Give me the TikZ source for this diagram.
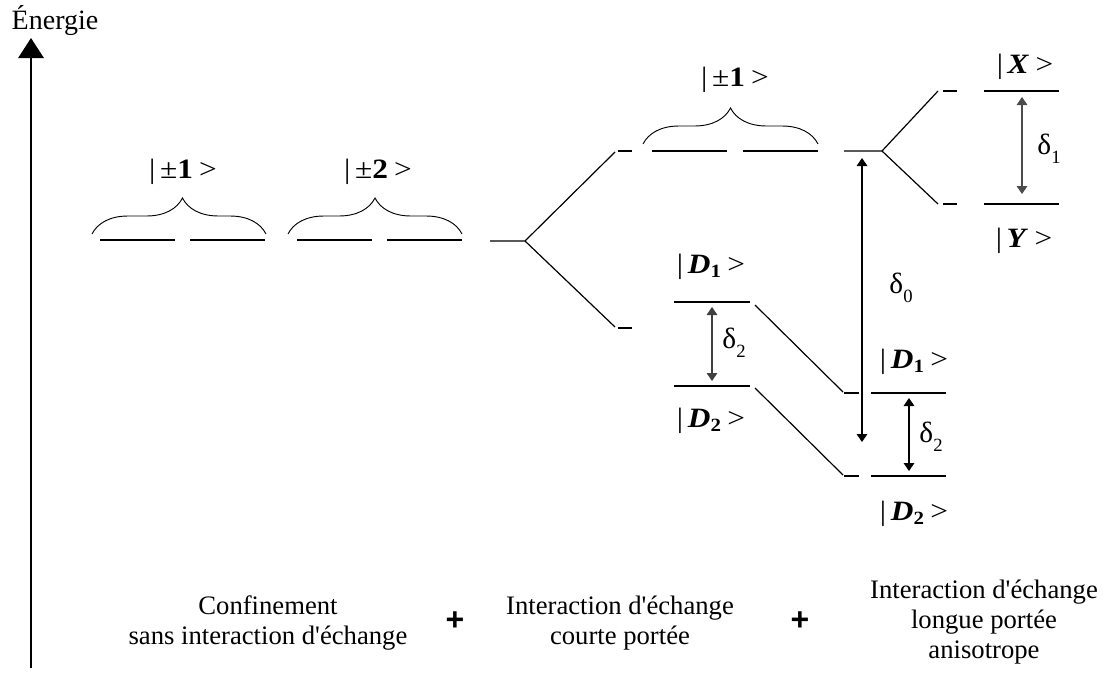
\documentclass[tikz,border=0pt]{standalone}
\usepackage{graphicx}
\usepackage{fontspec}
\setmainfont{Liberation Serif}
\setsansfont{Liberation Sans}
\usetikzlibrary{arrows.meta,decorations.pathreplacing}
\newcommand{\wide}[1]{\scalebox{1.12}[1]{#1}}
\newcommand{\ket}[1]{\wide{\textbar\hspace{0.15em}#1\hspace{0.2em}>}}
\newcommand{\dsub}[1]{{\fontsize{22}{22}\selectfont δ}\raisebox{-7pt}{\fontsize{14}{14}\selectfont #1}}
\newcommand{\Dk}[2]{\wide{\textbar\hspace{0.15em}\textbf{\textit{#1}}\raisebox{-3pt}{\fontsize{14}{14}\selectfont\textbf{#2}}\hspace{0.2em}>}}
\begin{document}
\begin{tikzpicture}[x=0.75pt,y=-0.75pt,
  lvl/.style={line width=1.9pt},
  thin/.style={line width=0.9pt},
  brc/.style={decorate,decoration={brace,amplitude=27pt,aspect=#1},line width=0.7pt},
  brc/.default=0.5,
  dar/.style={line width=0.8pt,{Triangle[length=6pt,width=8pt]}-{Triangle[length=6pt,width=8pt]}},
  lbl/.style={font=\fontsize{21}{23}\selectfont,inner sep=0pt},
  txt/.style={font=\fontsize{20}{22.5}\selectfont,align=center,inner sep=0pt},
  plus/.style={font=\sffamily\bfseries\fontsize{24}{24}\selectfont,inner sep=0pt}]
\useasboundingbox (0,0) rectangle (1119,678);

% axis
\coordinate (ax0) at (31,668);
\coordinate (ax1) at (31,38);
\draw[line width=1.5pt,-{Triangle[length=15pt,width=19pt]}] (ax0) -- (ax1);
\node[lbl] (energ) at (55,21) {Énergie};

% left levels
\coordinate (a1) at (100,240); \coordinate (a2) at (175,240);
\coordinate (b1) at (190,240); \coordinate (b2) at (265,240);
\coordinate (c1) at (297,240); \coordinate (c2) at (372,240);
\coordinate (d1) at (387,240); \coordinate (d2) at (462,240);
\draw[lvl] (a1) -- (a2); \draw[lvl] (b1) -- (b2);
\draw[lvl] (c1) -- (c2); \draw[lvl] (d1) -- (d2);
\draw[brc=0.52] (92,234) -- (266,234);
\draw[brc] (288,234) -- (462,234);
\node[lbl] (pm1) at (183,172) {\ket{±\textbf{1}}};
\node[lbl] (pm2) at (378,172) {\ket{±\textbf{2}}};

% first splitting
\coordinate (s0) at (490,241); \coordinate (s1) at (525,241);
\coordinate (su) at (615,152); \coordinate (sl) at (615,327);
\draw[thin] (s0) -- (s1) -- (su);
\draw[thin] (s1) -- (sl);
\draw[thin] (618,151) -- (632,151);
\draw[thin] (618,328) -- (632,328);

% upper pm1 group
\draw[lvl] (652,151) -- (727,151);
\draw[lvl] (743,151) -- (818,151);
\draw[brc] (643,144) -- (818,144);
\node[lbl] (pm1b) at (735,80) {\ket{±\textbf{1}}};

% middle D levels
\coordinate (m1a) at (674,302); \coordinate (m1b) at (750,302);
\coordinate (m2a) at (674,386); \coordinate (m2b) at (750,386);
\draw[lvl] (m1a) -- (m1b);
\draw[lvl] (m2a) -- (m2b);
\draw[dar,draw=black!75] (712,307) -- (712,381);
\node[lbl] (dm2) at (734,343) {\dsub{2}};
\node[lbl] (Dm1) at (711,267) {\Dk{D}{1}};
\node[lbl] (Dm2) at (711,421) {\Dk{D}{2}};

% slants to right D levels
\draw[thin] (755,305) -- (843,392);
\draw[thin] (755,388) -- (843,475);
\draw[thin] (844,393) -- (859,393);
\draw[thin] (844,476) -- (859,476);
\coordinate (r1a) at (871,393); \coordinate (r1b) at (946,393);
\coordinate (r2a) at (871,476); \coordinate (r2b) at (946,476);
\draw[lvl] (r1a) -- (r1b);
\draw[lvl] (r2a) -- (r2b);
\draw[dar] (909,398) -- (909,471);
\node[lbl] (dr2) at (931,437) {\dsub{2}};
\node[lbl] (Dr1) at (914,362) {\Dk{D}{1}};
\node[lbl] (Dr2) at (914,514) {\Dk{D}{2}};

% right splitting
\coordinate (t0) at (844,151); \coordinate (t1) at (882,151);
\coordinate (tu) at (938,91); \coordinate (tl) at (938,204);
\draw[thin] (t0) -- (t1) -- (tu);
\draw[thin] (t1) -- (tl);
\draw[thin] (943,91) -- (957,91);
\draw[thin] (943,204) -- (957,204);
\draw[lvl] (984,91) -- (1059,91);
\draw[lvl] (984,204) -- (1059,204);
\draw[dar,draw=black!70] (1022,97) -- (1022,194);
\node[lbl] (d1) at (1049,149) {\dsub{1}};
\node[lbl] (kX) at (1025,67) {\wide{\textbar\hspace{0.15em}\textbf{\textit{X}}\hspace{0.2em}>}};
\node[lbl] (kY) at (1024,241) {\wide{\textbar\hspace{0.15em}\textbf{\textit{Y}}\hspace{0.2em}>}};

% delta0
\draw[dar] (862,158) -- (862,442);
\node[lbl] (d0) at (901,288) {\dsub{0}};

% bottom texts
\node[txt] (tA) at (268,623) {Confinement\\sans interaction d\textquotesingle échange};
\node[plus] (p1) at (455,621) {+};
\node[txt] (tB) at (620,623) {Interaction d\textquotesingle échange\\courte portée};
\node[plus] (p2) at (800,621) {+};
\node[txt] (tC) at (984,622) {Interaction d\textquotesingle échange\\longue portée\\anisotrope};
\end{tikzpicture}
\end{document}
